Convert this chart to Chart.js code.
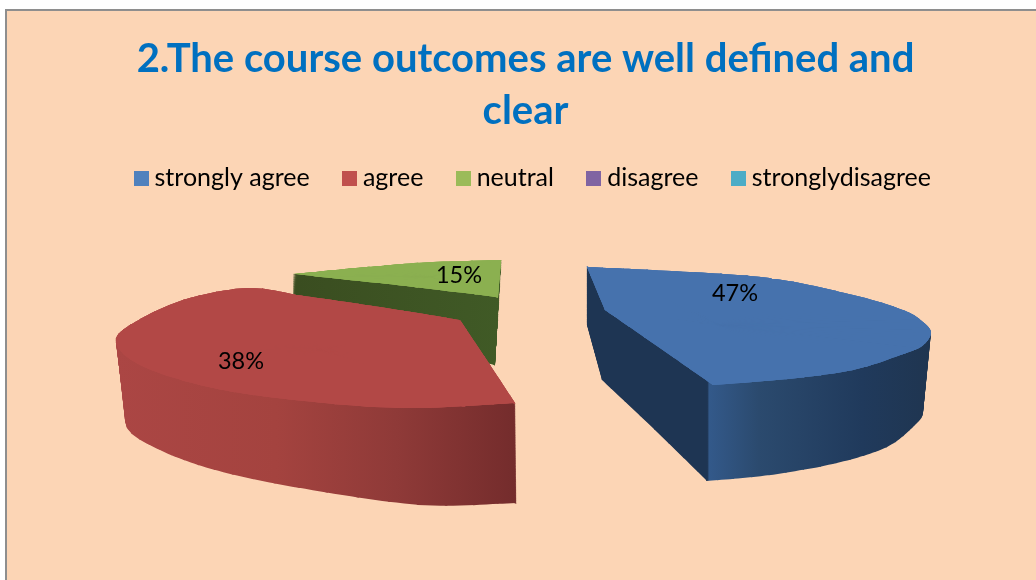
<!DOCTYPE html>
<html><head><meta charset="utf-8">
<style>html,body{margin:0;padding:0;background:#fff}#w{width:1036px;height:580px}</style>
<script src="https://cdn.jsdelivr.net/npm/chart.js@4"></script></head>
<body><div id="w"><canvas id="c" width="1036" height="580"></canvas></div>
<script>
const categories = ['strongly agree','agree','neutral','disagree','stronglydisagree'];
const percentValues = [47,38,15,0,0];
const legendColors = ['#4f81bd','#c0504d','#9bbb59','#8064a2','#4bacc6'];
const titleLines = ['2.The course outcomes are well defined and','clear'];

// Perspective warp of the pie plane: for each slice, how its angular range lands on the page.
const warp = [
 {from:-90,to:79.2,top:'#4672ad',hub:[720,325],hubB:[715,400],corners:[0,11,13],
  ring:[[587,267],[670,271],[770,278],[853,295],[903,310],[923,322],[931,333],[922,346],[903,354],[853,370],[787,379],[713,385],[660,348],[605,310]],
  ringB:[[587,325],[670,330],[770,350],[853,370],[905,390],[918,400],[923,413],[915,425],[887,447],[837,463],[770,475],[707,481],[655,430],[602,380]],
  wall:[[0,'#1e3553'],[.35,'#1e3553'],[.355,'#33598a'],[.5,'#2b4a6e'],[.8,'#203a5c'],[1,'#1f3550']],wx:[587,931],label:[735,293]},
 {from:79.2,to:216,top:'#b24846',hub:[320,350],hubB:[320,420],corners:[0,9,11,12],
  ring:[[515,403],[400,408],[277,398],[200,385],[140,365],[116,343],[130,325],[183,300],[247,288],[297,295],[380,307],[460,320],[490,365]],
  ringB:[[516,503],[420,505],[300,488],[215,470],[160,450],[127,428],[135,400],[185,370],[247,350],[297,370],[380,390],[460,400],[490,440]],
  wall:[[0,'#ab4644'],[.4,'#a4433f'],[.7,'#8f3a38'],[1,'#742c2c']],wx:[116,516],label:[241,361]},
 {from:216,to:270,top:'#8bb050',hub:[430,277],hubB:[430,320],corners:[0,3,4,5],
  ring:[[295,274],[367,267],[433,262],[501,260],[498,297],[397,285]],
  ringB:[[295,295],[367,295],[433,310],[497,330],[495,365],[397,345]],
  wall:[[0,'#3a4d20'],[1,'#405a26']],wx:[295,500],label:[459,275]}
];
const drawOrder = [2,0,1];
const wallLayers = 110;
const ringSubdivide = 4;
const legendShiftX = 10;

const deg = Math.PI/180;
const mix = (p,q,t)=>[p[0]+(q[0]-p[0])*t,p[1]+(q[1]-p[1])*t];

// Smooths a closed guide ring between its corner points
function smoothRing(ring,corners){
  const n=ring.length,out=[];
  const isC=i=>corners.includes((i+n)%n);
  for(let i=0;i<n;i++){
    const p1=ring[i],p2=ring[(i+1)%n];
    const p0=isC(i)?p1:ring[(i-1+n)%n];
    const p3=isC(i+1)?p2:ring[(i+2)%n];
    for(let s=0;s<ringSubdivide;s++){
      const t=s/ringSubdivide,t2=t*t,t3=t2*t;
      const f=d=>0.5*(2*p1[d]+(p2[d]-p0[d])*t+(2*p0[d]-5*p1[d]+4*p2[d]-p3[d])*t2+(3*p1[d]-p0[d]-3*p2[d]+p3[d])*t3);
      out.push([f(0),f(1)]);
    }
  }
  return out;
}
warp.forEach(w=>{w.ring=smoothRing(w.ring,w.corners);w.ringB=smoothRing(w.ringB,w.corners);});

function drawFans(ctx, el, w, t){
  const n = w.ring.length, step = (w.to-w.from)/n;
  const hub = mix(w.hub,w.hubB,t);
  const s0 = el.startAngle, e0 = el.endAngle, c0 = el.circumference;
  const R = el.outerRadius;
  for(let k=0;k<n;k++){
    const a = (w.from+k*step)*deg, b = (w.from+(k+1)*step)*deg;
    const a2 = Math.max(a,s0), b2 = Math.min(b,e0);
    if(b2<=a2) continue;
    const P = mix(w.ring[k],w.ringB[k],t), Q = mix(w.ring[(k+1)%n],w.ringB[(k+1)%n],t);
    const ux=R*Math.cos(a),uy=R*Math.sin(a),vx=R*Math.cos(b),vy=R*Math.sin(b);
    const Ux=P[0]-hub[0],Uy=P[1]-hub[1],Vx=Q[0]-hub[0],Vy=Q[1]-hub[1];
    const det=ux*vy-vx*uy;
    const m11=(Ux*vy-Vx*uy)/det,m12=(Vx*ux-Ux*vx)/det,m21=(Uy*vy-Vy*uy)/det,m22=(Vy*ux-Uy*vx)/det;
    ctx.save();
    ctx.setTransform(m11,m21,m12,m22,hub[0]-m11*el.x-m12*el.y,hub[1]-m21*el.x-m22*el.y);
    el.startAngle=a2; el.endAngle=b2+0.004; el.circumference=el.endAngle-el.startAngle;
    el.draw(ctx);
    ctx.restore();
  }
  el.startAngle=s0; el.endAngle=e0; el.circumference=c0;
}

const pie3d = {
  id:'pie3d',
  afterLayout(chart){
    chart.legend.left+=legendShiftX; chart.legend.right+=legendShiftX;
  },
  beforeDraw(chart){
    const c=chart.ctx;
    c.save();
    c.fillStyle='#fff';c.fillRect(0,0,1036,580);
    c.fillStyle='#fcd5b5';c.fillRect(5,9,1031,571);
    c.fillStyle='#8e8e8e';c.fillRect(5,9,1031,2);c.fillRect(5,9,2,571);
    c.restore();
  },
  beforeDatasetsDraw(chart){
    const meta=chart.getDatasetMeta(0), main=chart.ctx;
    const off=document.createElement('canvas');off.width=1036;off.height=580;
    const o=off.getContext('2d');
    const paint=(fill)=>{
      o.globalCompositeOperation='source-atop';
      o.fillStyle=fill;o.fillRect(0,0,1036,580);
      o.globalCompositeOperation='source-over';
      main.save();main.filter='blur(0.6px)';main.drawImage(off,0,0);main.restore();
      o.clearRect(0,0,1036,580);
    };
    for(const i of drawOrder){
      const el=meta.data[i], w=warp[i];
      if(!el||el.circumference<=0) continue;
      const keep=el.options;
      o.setTransform(1,0,0,1,0,0);o.globalCompositeOperation='source-over';o.clearRect(0,0,1036,580);
      el.options=Object.assign({},keep,{backgroundColor:'#000',borderWidth:0});
      for(let l=wallLayers;l>=1;l--) drawFans(o,el,w,l/wallLayers);
      const g=o.createLinearGradient(w.wx[0],0,w.wx[1],0);
      w.wall.forEach(s=>g.addColorStop(s[0],s[1]));
      paint(g);
      for(let r=0;r<3;r++) drawFans(o,el,w,0);
      paint(w.top);
      el.options=keep;
    }
    main.save();
    main.fillStyle='#000';main.font='23.5px Lato';main.textAlign='center';main.textBaseline='middle';
    percentValues.forEach((v,i)=>{ if(v>0&&warp[i]) main.fillText(v+'%',warp[i].label[0],warp[i].label[1]); });
    main.restore();
    return false;
  }
};

function swatch(color){
  const s=document.createElement('canvas');s.width=15;s.height=15;
  const x=s.getContext('2d');x.fillStyle=color;x.fillRect(0,0,15,15);
  return s;
}

new Chart(document.getElementById('c'),{
  type:'pie',
  data:{labels:categories,datasets:[{data:percentValues,backgroundColor:legendColors,borderWidth:0,offset:0}]},
  options:{
    responsive:false,animation:false,
    layout:{padding:{left:15,top:33,bottom:10}},
    plugins:{
      tooltip:{enabled:false},
      title:{display:true,text:titleLines,color:'#0070c0',font:{family:'Lato',size:40,weight:'bold',lineHeight:1.3},padding:{top:0,bottom:-10}},
      legend:{position:'top',labels:{
        font:{family:'Lato',size:25},color:'#000',usePointStyle:true,boxWidth:2,boxHeight:15,padding:38.8,
        generateLabels(chart){
          return Chart.overrides.pie.plugins.legend.labels.generateLabels(chart).map(it=>({...it,pointStyle:swatch(it.fillStyle),hidden:false,lineWidth:0}));
        }
      }}
    }
  },
  plugins:[pie3d]
});
</script></body></html>
